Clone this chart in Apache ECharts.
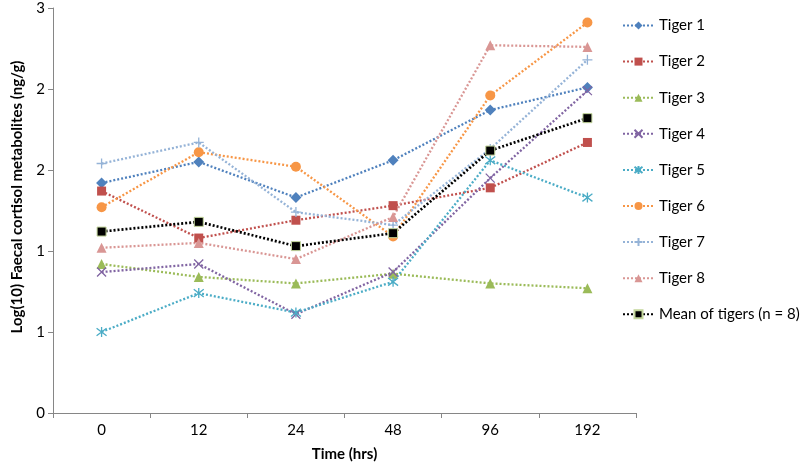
<!DOCTYPE html>
<html>
<head>
<meta charset="utf-8">
<script src="https://cdn.jsdelivr.net/npm/echarts@6/dist/echarts.min.js"></script>
<style>
html,body{margin:0;padding:0;background:#fff;}
#chart{width:800px;height:467px;}
</style>
</head>
<body>
<div id="chart"></div>
<script>
var categories = ['0', '12', '24', '48', '96', '192'];
var tiger1 = [1.42, 1.55, 1.33, 1.56, 1.87, 2.01];
var tiger2 = [1.37, 1.08, 1.19, 1.28, 1.39, 1.67];
var tiger3 = [0.92, 0.84, 0.80, 0.86, 0.80, 0.77];
var tiger4 = [0.87, 0.92, 0.61, 0.87, 1.45, 1.99];
var tiger5 = [0.50, 0.74, 0.62, 0.81, 1.56, 1.33];
var tiger6 = [1.27, 1.61, 1.52, 1.09, 1.96, 2.41];
var tiger7 = [1.54, 1.67, 1.24, 1.16, 1.63, 2.18];
var tiger8 = [1.02, 1.05, 0.95, 1.21, 2.27, 2.26];
var meanTigers = [1.12, 1.18, 1.03, 1.11, 1.62, 1.82];
var yTicks = {min: 0, max: 2.5, interval: 0.5};

var FONT = 'Lato';
var xPath = 'path://M0,0L10,10M10,0L0,10';
var starPath = 'path://M0,0L10,10M10,0L0,10M5,-1.5L5,11.5';
var plusPath = 'path://M5,0L5,10M0,5L10,5';

function mk(name, data, color, symbol, size, extra) {
  var s = {
    name: name, type: 'line', data: data,
    symbol: symbol, symbolSize: size,
    color: color,
    lineStyle: {color: color, width: 2.3, type: [2, 2]},
    itemStyle: {color: color},
    emphasis: {disabled: true},
    animation: false
  };
  if (extra) { for (var k in extra) s[k] = extra[k]; }
  return s;
}

var series = [
  mk('Tiger 1', tiger1, '#4F81BD', 'diamond', 11),
  mk('Tiger 2', tiger2, '#C0504D', 'rect', 9),
  mk('Tiger 3', tiger3, '#9BBB59', 'triangle', 10),
  mk('Tiger 4', tiger4, '#8064A2', xPath, 9, {itemStyle: {color: 'rgba(0,0,0,0)', borderColor: '#8064A2', borderWidth: 1.3}}),
  mk('Tiger 5', tiger5, '#4BACC6', starPath, 10, {itemStyle: {color: 'rgba(0,0,0,0)', borderColor: '#4BACC6', borderWidth: 1.3}}),
  mk('Tiger 6', tiger6, '#F79646', 'circle', 10),
  mk('Tiger 7', tiger7, '#95B3D7', plusPath, 10, {itemStyle: {color: 'rgba(0,0,0,0)', borderColor: '#95B3D7', borderWidth: 1.3}}),
  mk('Tiger 8', tiger8, '#D99694', 'triangle', 10),
  mk('Mean of tigers (n = 8)', meanTigers, '#000000', 'rect', 9, {itemStyle: {color: '#000000', borderColor: '#C3D69B', borderWidth: 1}})
];
series[8].lineStyle.width = 2.7;

var chart = echarts.init(document.getElementById('chart'), null, {renderer: 'canvas'});
chart.setOption({
  backgroundColor: '#fff',
  animation: false,
  textStyle: {fontFamily: FONT},
  grid: {left: 53, right: 164, top: 8, bottom: 51, containLabel: false},
  legend: {
    orient: 'vertical', left: 617, top: 13,
    itemWidth: 31, itemHeight: 10, itemGap: 21.1,
    textStyle: {fontFamily: FONT, fontSize: 15, color: '#000'},
    data: series.map(function (s) { return s.name; })
  },
  xAxis: {
    type: 'category', data: categories, boundaryGap: true,
    name: 'Time (hrs)', nameLocation: 'middle', nameGap: 34,
    nameTextStyle: {fontFamily: FONT, fontSize: 15, fontWeight: 'bold', color: '#000'},
    axisLine: {lineStyle: {color: '#868686', width: 1}},
    axisTick: {show: true, alignWithLabel: false, length: 5, lineStyle: {color: '#868686'}},
    axisLabel: {fontFamily: FONT, fontSize: 15, color: '#000', margin: 10},
    splitLine: {show: false}
  },
  yAxis: {
    type: 'value', min: yTicks.min, max: yTicks.max, interval: yTicks.interval,
    axisLine: {show: true, lineStyle: {color: '#868686', width: 1}},
    axisTick: {show: true, length: 5, lineStyle: {color: '#868686'}},
    axisLabel: {fontFamily: FONT, fontSize: 15, color: '#000', margin: 8,
      formatter: function (v) { return String(Math.round(v)); }},
    splitLine: {show: false}
  },
  graphic: [{
    type: 'text', x: 17, y: 197, rotation: Math.PI / 2,
    style: {text: 'Log(10) Faecal cortisol metabolites (ng/g)', fontFamily: FONT, fontSize: 15,
      fontWeight: 'bold', fill: '#000', align: 'center', verticalAlign: 'middle'}
  }],
  series: series
});
</script>
</body>
</html>
